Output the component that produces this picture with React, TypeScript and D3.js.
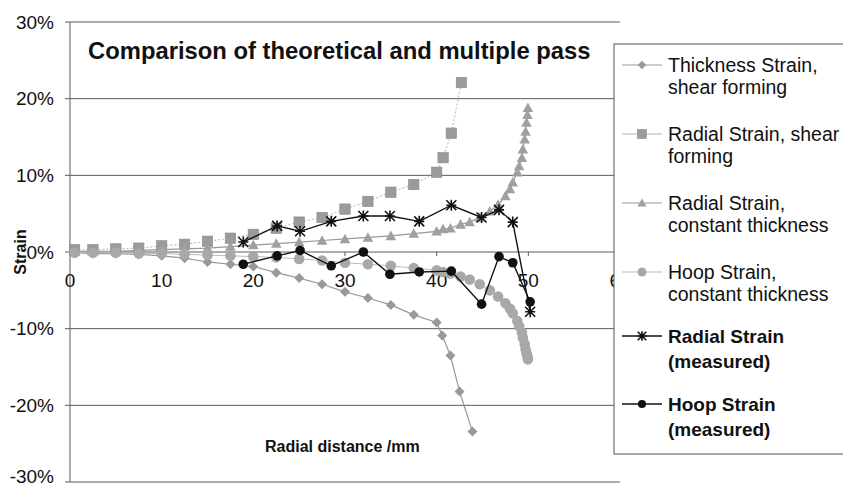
import React from "react";
import * as d3 from "d3";

// ---------- data ----------
const X_TICKS = [0, 10, 20, 30, 40, 50, 60];
const Y_TICKS = [-30, -20, -10, 0, 10, 20, 30];

const thicknessX = [0.5, 2.5, 5, 7.5, 10, 12.5, 15, 17.5, 20, 22.5, 25, 27.5, 30, 32.5, 35, 37.5, 40, 40.6, 41.5, 42.5, 43.9];
const thicknessY = [-0.1, -0.2, -0.2, -0.3, -0.5, -0.8, -1.3, -1.6, -1.9, -2.7, -3.4, -4.2, -5.2, -6.0, -6.9, -8.2, -9.2, -10.9, -13.5, -18.2, -23.4];

const radialShearX = [0.5, 2.5, 5, 7.5, 10, 12.5, 15, 17.5, 20, 22.5, 25, 27.5, 30, 32.5, 35, 37.5, 40, 40.7, 41.6, 42.7];
const radialShearY = [0.3, 0.3, 0.4, 0.5, 0.8, 1.0, 1.4, 1.8, 2.3, 3.1, 3.9, 4.5, 5.6, 6.6, 7.8, 8.8, 10.4, 12.3, 15.5, 22.1];

const constX = [0.5, 2.5, 5, 7.5, 10, 12.5, 15, 17.5, 20, 22.5, 25, 27.5, 30, 32.5, 35, 37.5, 40, 40.7, 41.5, 42.6, 43.6, 44.7, 45.8, 46.7, 47.5, 48.0, 48.3, 48.8, 49.0, 49.3, 49.4, 49.6, 49.7, 49.8, 49.9, 49.95];
const radialConstY = [0.1, 0.1, 0.1, 0.2, 0.3, 0.4, 0.5, 0.7, 0.9, 1.1, 1.3, 1.5, 1.7, 1.9, 2.1, 2.4, 2.7, 3.0, 3.1, 3.6, 3.9, 4.5, 5.3, 6.2, 7.3, 8.2, 9.1, 10.4, 11.2, 12.3, 13.4, 14.7, 15.7, 16.9, 17.9, 18.8];
const hoopConstY = [-0.1, -0.1, -0.1, -0.2, -0.2, -0.3, -0.4, -0.5, -0.6, -0.7, -0.9, -1.1, -1.4, -1.6, -1.8, -2.1, -2.4, -2.6, -2.8, -3.2, -3.6, -4.2, -5.0, -5.8, -6.7, -7.4, -8.0, -9.0, -9.7, -10.5, -11.2, -12.0, -12.7, -13.2, -13.6, -14.0];

const measX = [18.9, 22.6, 25.1, 28.5, 32.0, 34.9, 38.1, 41.6, 44.9, 46.8, 48.3, 50.2];
const radialMeasY = [1.3, 3.4, 2.7, 4.0, 4.7, 4.7, 4.0, 6.1, 4.5, 5.5, 3.9, -7.8];
const hoopMeasY = [-1.6, -0.5, 0.2, -1.8, 0.0, -2.9, -2.6, -2.5, -6.8, -0.6, -1.4, -6.5];

const TITLE = "Comparison of theoretical and multiple pass";
const X_TITLE = "Radial distance /mm";
const Y_TITLE = "Strain";

type Shape = "diamond" | "square" | "triangle" | "circle" | "star" | "dot";

interface Series {
  lines: string[];
  bold: boolean;
  xs: number[];
  ys: number[];
  shape: Shape;
  marker: string;
  stroke: string;
  dash?: string;
  width: number;
}

const SERIES: Series[] = [
  { lines: ["Thickness Strain,", "shear forming"], bold: false, xs: thicknessX, ys: thicknessY, shape: "diamond", marker: "#999", stroke: "#999", width: 1.2 },
  { lines: ["Radial Strain, shear", "forming"], bold: false, xs: radialShearX, ys: radialShearY, shape: "square", marker: "#9b9b9b", stroke: "#b5b5b5", dash: "2,2", width: 1 },
  { lines: ["Radial Strain,", "constant thickness"], bold: false, xs: constX, ys: radialConstY, shape: "triangle", marker: "#a0a0a0", stroke: "#999", width: 1.2 },
  { lines: ["Hoop Strain,", "constant thickness"], bold: false, xs: constX, ys: hoopConstY, shape: "circle", marker: "#a8a8a8", stroke: "#bbb", width: 1 },
  { lines: ["Radial Strain", "(measured)"], bold: true, xs: measX, ys: radialMeasY, shape: "star", marker: "#111", stroke: "#111", width: 1.4 },
  { lines: ["Hoop Strain", "(measured)"], bold: true, xs: measX, ys: hoopMeasY, shape: "dot", marker: "#111", stroke: "#111", width: 1.4 },
];

// ---------- layout ----------
const W = 843;
const H = 488;
const LEGEND_Y = [65, 134, 203, 272, 336, 404];
const FONT = "'Liberation Sans', Arial, Helvetica, sans-serif";

function Marker({ shape, cx, cy, color, scale = 1 }: { shape: Shape; cx: number; cy: number; color: string; scale?: number }) {
  switch (shape) {
    case "diamond": {
      const r = 5 * scale;
      return <path d={`M${cx},${cy - r}L${cx + r},${cy}L${cx},${cy + r}L${cx - r},${cy}Z`} fill={color} />;
    }
    case "square": {
      const r = 5.2 * scale;
      return <rect x={cx - r} y={cy - r} width={2 * r} height={2 * r} fill={color} stroke="#8a8a8a" strokeWidth={0.6} />;
    }
    case "triangle": {
      const r = 5.3 * scale;
      return <path d={`M${cx},${cy - r}L${cx + r},${cy + r * 0.8}L${cx - r},${cy + r * 0.8}Z`} fill={color} />;
    }
    case "circle":
      return <circle cx={cx} cy={cy} r={5.3 * scale} fill={color} />;
    case "dot":
      return <circle cx={cx} cy={cy} r={4.8 * scale} fill={color} />;
    case "star": {
      const r = 5 * scale;
      return (
        <path
          d={`M${cx - r},${cy - r}L${cx + r},${cy + r}M${cx - r},${cy + r}L${cx + r},${cy - r}M${cx},${cy - r - 0.5}L${cx},${cy + r + 0.5}M${cx - r},${cy}L${cx + r},${cy}`}
          stroke={color}
          strokeWidth={1.6}
          fill="none"
        />
      );
    }
  }
  return null;
}

export default function App() {
  const x = d3.scaleLinear().domain([0, 60]).range([70, 620]);
  const y = d3.scaleLinear().domain([-30, 30]).range([482, 22]);

  const lineGen = (xs: number[], ys: number[]) =>
    d3
      .line<number>()
      .x((_, i) => x(xs[i]))
      .y((v) => y(v))(ys) || "";

  const legendX = 614;

  return (
    <svg width={W} height={H} style={{ position: "absolute", left: 0, top: 0, background: "#fff" }} fontFamily={FONT}>
      <rect x={0} y={0} width={W} height={H} fill="#fff" />

      {/* gridlines */}
      {Y_TICKS.map((t) => (
        <line key={"g" + t} x1={x(0) - 5} x2={x(60)} y1={y(t)} y2={y(t)} stroke="#5a5a5a" strokeWidth={1} />
      ))}
      {/* y axis */}
      <line x1={x(0)} x2={x(0)} y1={y(30)} y2={y(-30)} stroke="#5a5a5a" strokeWidth={1} />
      {/* x ticks on zero line */}
      {X_TICKS.map((t) => (
        <line key={"xt" + t} x1={x(t)} x2={x(t)} y1={y(0)} y2={y(0) + 4} stroke="#5a5a5a" strokeWidth={1} />
      ))}

      {/* y tick labels */}
      {Y_TICKS.map((t) => (
        <text key={"yl" + t} x={54} y={Math.min(y(t) + 6.5, 483)} fontSize={19} textAnchor="end" fill="#111">
          {`${t}%`}
        </text>
      ))}
      {/* x tick labels */}
      {X_TICKS.map((t) => (
        <text key={"xl" + t} x={x(t)} y={y(0) + 35} fontSize={19} textAnchor="middle" fill="#111">
          {t}
        </text>
      ))}

      {/* series */}
      {SERIES.map((s, si) => (
        <g key={"s" + si}>
          <path d={lineGen(s.xs, s.ys)} fill="none" stroke={s.stroke} strokeWidth={s.width} strokeDasharray={s.dash} />
          {s.ys.map((v, i) => (
            <Marker key={i} shape={s.shape} cx={x(s.xs[i])} cy={y(v)} color={s.marker} />
          ))}
        </g>
      ))}

      {/* title */}
      <text x={88} y={59} fontSize={23.8} fontWeight="bold" fill="#111">
        {TITLE}
      </text>
      {/* axis titles */}
      <text x={265} y={452} fontSize={16} fontWeight="bold" fill="#111">
        {X_TITLE}
      </text>
      <text transform={`translate(26,252) rotate(-90)`} fontSize={16} fontWeight="bold" textAnchor="middle" fill="#111">
        {Y_TITLE}
      </text>

      {/* legend */}
      <rect x={legendX} y={44} width={260} height={410} fill="#fff" stroke="#555" strokeWidth={1} />
      {SERIES.map((s, si) => {
        const cy = LEGEND_Y[si];
        return (
          <g key={"l" + si}>
            <line x1={622} x2={662} y1={cy} y2={cy} stroke={s.stroke} strokeWidth={s.bold ? 1.6 : 1.2} />
            <Marker shape={s.shape} cx={642} cy={cy} color={s.marker} scale={0.85} />
            {s.lines.map((ln, li) => (
              <text
                key={li}
                x={668}
                y={cy + 7 + li * (s.bold ? 25 : 22)}
                fontSize={s.bold ? 19 : 19.5}
                fontWeight={s.bold ? "bold" : "normal"}
                fill="#111"
              >
                {ln}
              </text>
            ))}
          </g>
        );
      })}
    </svg>
  );
}
